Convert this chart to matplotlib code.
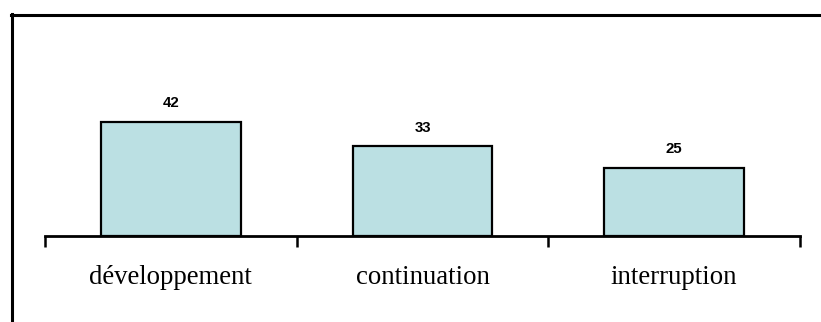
import matplotlib
matplotlib.use("Agg")
import matplotlib.pyplot as plt
from matplotlib.lines import Line2D

categories = ["développement", "continuation", "interruption"]
values = [42, 33, 25]

W, H = 821, 322
fig = plt.figure(figsize=(W/100, H/100), dpi=100)

x0, x1 = 45, 800
ybase, ytop = 236, 40
ax = fig.add_axes([x0/W, 1 - ybase/H, (x1 - x0)/W, (ybase - ytop)/H])
scale = 114/42
ax.set_ylim(0, (ybase - ytop)/scale)
ax.set_xlim(0, len(categories))

pos = [i + 0.5 for i in range(len(categories))]
bars = ax.bar(pos, values, width=0.556, color="#BBE0E3", edgecolor="black", linewidth=1.6)
for p, v in zip(pos, values):
    ax.text(p, v + 4.3, str(v), ha="center", va="bottom", fontsize=10.8,
            fontweight="bold", family="Liberation Sans")

for s in ["top", "right", "left"]:
    ax.spines[s].set_visible(False)
ax.spines["bottom"].set_linewidth(2)
ax.set_yticks([])
ax.set_xticks(range(len(categories) + 1))
ax.set_xticklabels([])
ax.set_xticks(pos, minor=True)
ax.set_xticklabels(categories, minor=True, family="Liberation Serif", fontsize=19.3)
ax.tick_params(axis="x", which="major", direction="out", length=8, width=1.8)
ax.tick_params(axis="x", which="minor", length=0, pad=21)

fig.add_artist(Line2D([12/W, 12/W], [0, 1 - 14/H], color="black", linewidth=2.2))
fig.add_artist(Line2D([11/W, 1], [1 - 15/H, 1 - 15/H], color="black", linewidth=2.2))

fig.savefig("out.png", dpi=100)
